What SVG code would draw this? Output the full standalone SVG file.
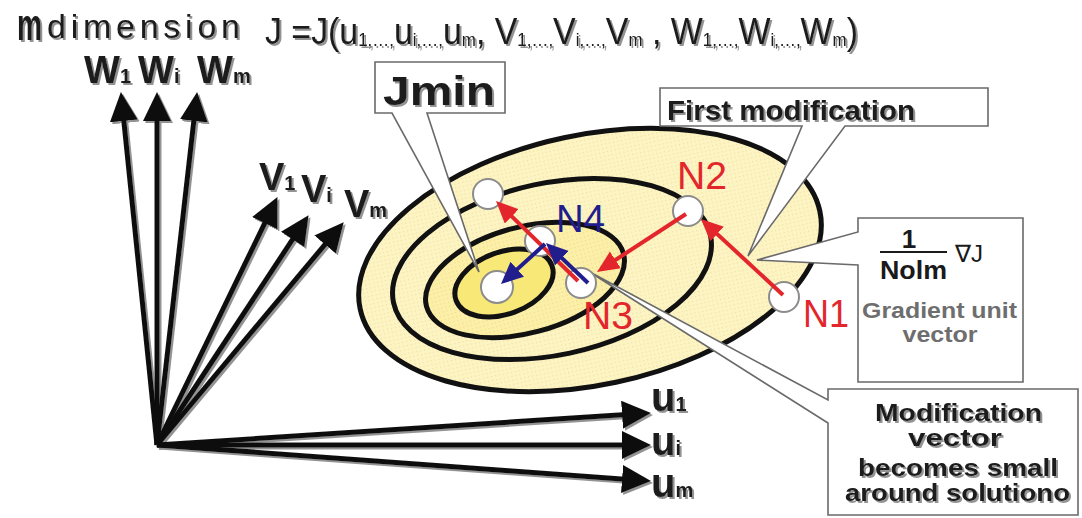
<svg xmlns="http://www.w3.org/2000/svg" width="1082" height="518" viewBox="0 0 1082 518">
<style>
.t{font-family:"Liberation Sans",Arial,sans-serif;fill:#1a1a1a}
.b{font-weight:bold}
.ax{stroke:#111;stroke-width:5;fill:none}
.ell{stroke:#111;stroke-width:5}
.bal{fill:#fff;stroke:#6a6a6a;stroke-width:1.6}
.node{fill:#fff;stroke:#8c8c8c;stroke-width:2}
.red{stroke:#e3262b;stroke-width:4;fill:none}
.blue{stroke:#221d8c;stroke-width:4;fill:none}
.nl{font-family:"Liberation Sans",Arial,sans-serif;font-size:38px;fill:#e3262b}
</style>
<defs>
<filter id="sh" x="-10%" y="-10%" width="130%" height="130%">
<feDropShadow dx="2" dy="2" stdDeviation="0.7" flood-color="#777" flood-opacity="0.8"/>
</filter>
<pattern id="dots" width="4" height="4" patternUnits="userSpaceOnUse">
<rect width="4" height="4" fill="#fdf4c4"/><rect x="1" y="1" width="1.2" height="1.2" fill="#f1df9c"/>
</pattern>
<pattern id="dots2" width="4" height="4" patternUnits="userSpaceOnUse">
<rect width="4" height="4" fill="#fcefa8"/><rect x="1" y="1" width="1.2" height="1.2" fill="#eedb8a"/>
</pattern>
<marker id="ah" markerUnits="userSpaceOnUse" markerWidth="32" markerHeight="30" refX="20" refY="14" orient="auto">
<path d="M0,0 L29,14 L0,28 Z" fill="#111"/>
</marker>
<marker id="ahr" markerUnits="userSpaceOnUse" markerWidth="24" markerHeight="22" refX="16" refY="10" orient="auto">
<path d="M0,0 L22,10 L0,20 Z" fill="#e3262b"/>
</marker>
<marker id="ahb" markerUnits="userSpaceOnUse" markerWidth="24" markerHeight="22" refX="16" refY="10" orient="auto">
<path d="M0,0 L22,10 L0,20 Z" fill="#221d8c"/>
</marker>
</defs>
<rect width="1082" height="518" fill="#fff"/>

<!-- title -->
<g id="title" filter="url(#sh)">
<text class="t b" x="17" y="40" font-size="44" textLength="25" lengthAdjust="spacingAndGlyphs">m</text>
<text class="t" x="47" y="38" font-size="34" textLength="193">dimension</text>
<text class="t" x="265" y="44" font-size="36" textLength="593" lengthAdjust="spacingAndGlyphs">J =J(u<tspan font-size="18" dy="2">1,…,</tspan><tspan dy="-2">u</tspan><tspan font-size="18" dy="2">i,…,</tspan><tspan dy="-2">u</tspan><tspan font-size="18" dy="2">m</tspan><tspan dy="-2">, V</tspan><tspan font-size="18" dy="2">1,…,</tspan><tspan dy="-2">V</tspan><tspan font-size="18" dy="2">i,…,</tspan><tspan dy="-2">V</tspan><tspan font-size="18" dy="2">m</tspan><tspan dy="-2"> , W</tspan><tspan font-size="18" dy="2">1,…,</tspan><tspan dy="-2">W</tspan><tspan font-size="18" dy="2">i,…,</tspan><tspan dy="-2">W</tspan><tspan font-size="18" dy="2">m</tspan><tspan dy="-2">)</tspan></text>
</g>

<!-- contour ellipses -->
<g id="contours">
<ellipse class="ell" cx="590" cy="260" rx="235" ry="125" transform="rotate(-12 590 260)" fill="url(#dots)"/>
<ellipse class="ell" cx="552" cy="269" rx="162" ry="86" transform="rotate(-12 552 269)" fill="url(#dots)"/>
<ellipse class="ell" cx="525" cy="280" rx="102" ry="53" transform="rotate(-15 525 280)" fill="url(#dots2)"/>
<ellipse class="ell" cx="504" cy="283" rx="51" ry="31" transform="rotate(-20 504 283)" fill="#f8e878"/>
</g>

<!-- axes -->
<g id="connectors" filter="url(#sh)">
<line class="ax" x1="157" y1="445" x2="121.8" y2="101" marker-end="url(#ah)"/>
<line class="ax" x1="157" y1="445" x2="157" y2="101" marker-end="url(#ah)"/>
<line class="ax" x1="157" y1="445" x2="196.1" y2="101" marker-end="url(#ah)"/>
<line class="ax" x1="157" y1="445" x2="273.5" y2="205.2" marker-end="url(#ah)"/>
<line class="ax" x1="157" y1="445" x2="303.6" y2="222.7" marker-end="url(#ah)"/>
<line class="ax" x1="157" y1="445" x2="337.9" y2="229.1" marker-end="url(#ah)"/>
<line class="ax" x1="157" y1="445" x2="642" y2="413.5" marker-end="url(#ah)"/>
<line class="ax" x1="157" y1="445" x2="642" y2="445" marker-end="url(#ah)"/>
<line class="ax" x1="157" y1="445" x2="642" y2="480.4" marker-end="url(#ah)"/>
</g>

<!-- axis labels -->
<g id="axis-labels" filter="url(#sh)">
<text class="t b" x="84" y="83" font-size="38">W<tspan font-size="20">1</tspan></text>
<text class="t b" x="138" y="83" font-size="38">W<tspan font-size="20">i</tspan></text>
<text class="t b" x="197" y="83" font-size="38">W<tspan font-size="20">m</tspan></text>
<text class="t b" x="259" y="190" font-size="38">V<tspan font-size="20">1</tspan></text>
<text class="t b" x="301" y="202" font-size="38">V<tspan font-size="20">i</tspan></text>
<text class="t b" x="344" y="217" font-size="38">V<tspan font-size="20">m</tspan></text>
<text class="t b" x="651" y="411" font-size="40">u<tspan font-size="20">1</tspan></text>
<text class="t b" x="651" y="455" font-size="40">u<tspan font-size="20">i</tspan></text>
<text class="t b" x="651" y="497" font-size="40">u<tspan font-size="20">m</tspan></text>
</g>

<!-- callouts -->
<g id="callout-jmin">
<path class="bal" d="M375,62 H505 V113 H427 L479,272 L392,113 H375 Z"/>
<text class="t b" x="383" y="105" font-size="40" textLength="112" lengthAdjust="spacingAndGlyphs" filter="url(#sh)">Jmin</text>
</g>
<g id="callout-first">
<path class="bal" d="M660,88 H988 V126 H845 L748,256 L802,126 H660 Z"/>
<text class="t b" x="667" y="120" font-size="28" textLength="248" lengthAdjust="spacingAndGlyphs" filter="url(#sh)">First modification</text>
</g>
<g id="callout-gradient">
<path class="bal" d="M858,218 H1023 V382 H858 V265 L757,260 L858,232 Z"/>
<text class="t b" x="909" y="248" font-size="26" text-anchor="middle">1</text>
<line x1="880" y1="252" x2="947" y2="252" stroke="#1a1a1a" stroke-width="2"/>
<text class="t b" x="880" y="279" font-size="26" textLength="67" lengthAdjust="spacingAndGlyphs">Nolm</text>
<text class="t" x="955" y="262" font-size="24">∇J</text>
<text class="t b" x="862" y="318" font-size="22" textLength="155" lengthAdjust="spacingAndGlyphs" style="fill:#6e6e6e">Gradient unit</text>
<text class="t b" x="940" y="342" font-size="22" text-anchor="middle" textLength="75" lengthAdjust="spacingAndGlyphs" style="fill:#6e6e6e">vector</text>
</g>
<g id="callout-modification">
<path class="bal" d="M828,389 H1078 V515 H828 V423 L588,271 L828,400 Z"/>
<g filter="url(#sh)">
<text class="t b" x="875" y="421" font-size="24" textLength="167" lengthAdjust="spacingAndGlyphs">Modification</text>
<text class="t b" x="908" y="446" font-size="24" textLength="94" lengthAdjust="spacingAndGlyphs">vector</text>
<text class="t b" x="858" y="476" font-size="24" textLength="200" lengthAdjust="spacingAndGlyphs">becomes small</text>
<text class="t b" x="845" y="501" font-size="24" textLength="225" lengthAdjust="spacingAndGlyphs">around solutiono</text>
</g>
</g>

<!-- nodes -->
<g id="node-n1"><circle class="node" cx="784" cy="297" r="15"/><text class="nl" x="803" y="327" textLength="46" lengthAdjust="spacingAndGlyphs">N1</text></g>
<g id="node-n2"><circle class="node" cx="688" cy="211" r="15"/><text class="nl" x="677" y="189" textLength="50" lengthAdjust="spacingAndGlyphs">N2</text></g>
<g id="node-n3"><circle class="node" cx="581" cy="283" r="15"/><text class="nl" x="583" y="329" textLength="50" lengthAdjust="spacingAndGlyphs">N3</text></g>
<g id="node-n4"><circle class="node" cx="540" cy="241" r="15"/><text class="nl" x="556" y="232" textLength="49" lengthAdjust="spacingAndGlyphs" style="fill:#221d8c">N4</text></g>
<g id="node-overshoot"><circle class="node" cx="488" cy="194" r="15"/></g>
<g id="node-jmin"><circle class="node" cx="497" cy="287" r="16"/></g>

<!-- modification vectors -->
<g id="steps">
<line class="red" x1="783" y1="295" x2="705.4" y2="223.1" marker-end="url(#ahr)"/>
<line class="red" x1="686" y1="214" x2="602" y2="268.7" marker-end="url(#ahr)"/>
<line class="red" x1="578" y1="281" x2="500.3" y2="205.2" marker-end="url(#ahr)"/>
<line class="blue" x1="588" y1="283" x2="550.3" y2="247.1" marker-end="url(#ahb)"/>
<line class="blue" x1="545" y1="244" x2="505.4" y2="280" marker-end="url(#ahb)"/>
</g>
</svg>
